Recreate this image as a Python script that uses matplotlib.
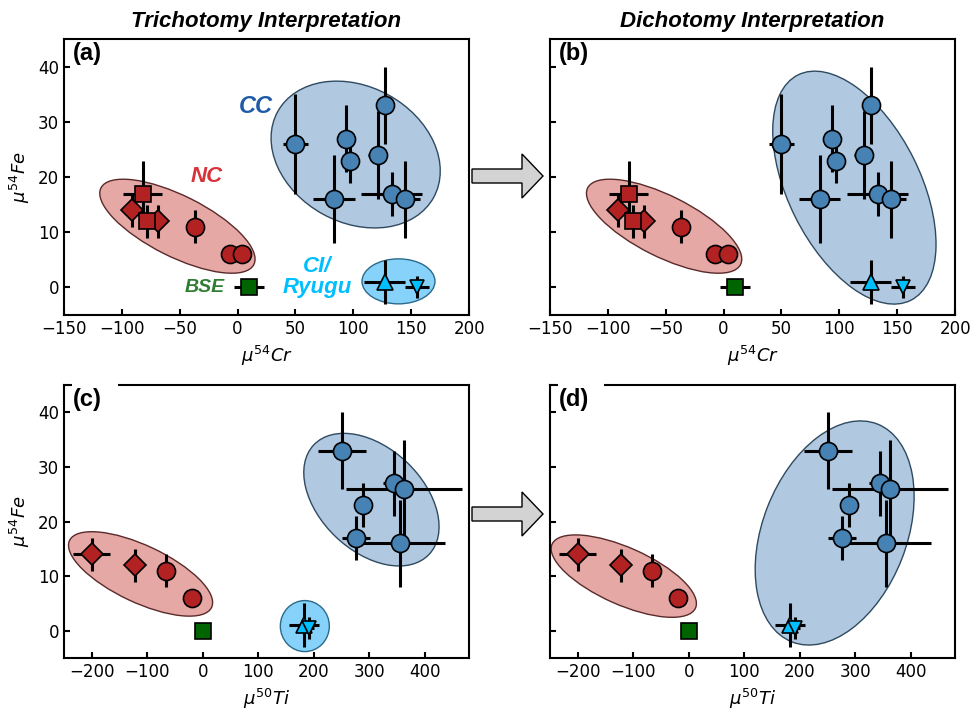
import matplotlib
matplotlib.use("Agg")
import matplotlib.pyplot as plt
from matplotlib.patches import Ellipse, Polygon, Rectangle
from matplotlib.transforms import ScaledTranslation

# ---- data: mu54Cr vs mu54Fe ----
nc_cr_x = [-69, -91, -82, -78, -37, -7, 4]
nc_cr_y = [12, 14, 17, 12, 11, 6, 6]
nc_cr_xerr = [0, 0, 17, 0, 0, 0, 0]
nc_cr_yerr = [3, 3, 6, 3, 3, 0, 0]
nc_cr_mk = ['D', 'D', 's', 's', 'o', 'o', 'o']

cc_cr_x = [50, 83, 94, 97, 121, 127, 133, 145]
cc_cr_y = [26, 16, 27, 23, 24, 33, 17, 16]
cc_cr_xerr = [11, 18, 5, 8, 8, 0, 26, 13]
cc_cr_yerr = [9, 8, 6, 4, 8, 7, 4, 7]

ci_cr_x = [127, 155]
ci_cr_y = [1, 0]
ci_cr_xerr = [18, 10]
ci_cr_yerr = [4, 2]
ci_mk = ['^', 'v']

bse_cr = (10, 0, 13)

# ---- data: mu50Ti vs mu54Fe ----
nc_ti_x = [-200, -122, -66, -20]
nc_ti_y = [14, 12, 11, 6]
nc_ti_xerr = [33, 0, 0, 0]
nc_ti_yerr = [3, 3, 3, 0]
nc_ti_mk = ['D', 'D', 'o', 'o']

cc_ti_x = [251, 345, 363, 289, 276, 356]
cc_ti_y = [33, 27, 26, 23, 17, 16]
cc_ti_xerr = [44, 20, 105, 0, 25, 81]
cc_ti_yerr = [7, 6, 9, 4, 4, 8]

ci_ti_x = [183, 191]
ci_ti_y = [1, 0.5]
ci_ti_xerr = [27, 10]
ci_ti_yerr = [4, 2]

bse_ti = (0, 0, 0)

c_nc, c_cc, c_ci, c_bse = '#B22222', '#4682B4', '#00BFFF', '#006400'
f_nc, f_cc, f_ci = '#E5A8A5', '#B0C8E0', '#87D2FA'
e_nc, e_cc, e_ci = '#5A2A2A', '#2F4A60', '#2A6A8A'

msize = {'o': 13, 's': 12, 'D': 11, '^': 12, 'v': 10}

fig = plt.figure(figsize=(9.71, 7.12), dpi=100)
ax_a = fig.add_axes([0.0659, 0.5576, 0.4172, 0.3872])
ax_b = fig.add_axes([0.5664, 0.5576, 0.4172, 0.3872])
ax_c = fig.add_axes([0.0659, 0.0758, 0.4172, 0.3835])
ax_d = fig.add_axes([0.5664, 0.0758, 0.4172, 0.3835])


def points(ax, xs, ys, xe, ye, mks, color):
    for x, y, dx, dy, m in zip(xs, ys, xe, ye, mks):
        ax.errorbar(x, y, xerr=dx, yerr=dy, fmt=m, ms=msize[m], mfc=color,
                    mec='black', mew=1.2, ecolor='black', elinewidth=2.2,
                    capsize=0, zorder=3)


def blob(ax, cx, cy, w, h, ang, fc, ec):
    # size in inches so the shape does not depend on the axis scales
    tr = fig.dpi_scale_trans + ScaledTranslation(cx, cy, ax.transData)
    ax.add_patch(Ellipse((0, 0), w, h, angle=ang, transform=tr,
                         fc=fc, ec=ec, lw=1.0, zorder=1))


def style(ax, label, show_y=True):
    for s in ax.spines.values():
        s.set_linewidth(1.5)
    ax.tick_params(direction='in', length=4.5, width=1.5, labelsize=12,
                   top=False, right=False)
    if not show_y:
        ax.tick_params(labelleft=False)
    else:
        ax.set_ylabel(r'$\mu^{54}Fe$', fontsize=13)
    ax.set_ylim(-5, 45)
    ax.set_yticks([0, 10, 20, 30, 40])
    ax.text(0.022, 0.99, label, transform=ax.transAxes, ha='left', va='top',
            fontsize=17, fontweight='bold', family='Liberation Sans', zorder=6)


# (a) and (b): Cr
for ax, lab in [(ax_a, '(a)'), (ax_b, '(b)')]:
    points(ax, nc_cr_x, nc_cr_y, nc_cr_xerr, nc_cr_yerr, nc_cr_mk, c_nc)
    points(ax, cc_cr_x, cc_cr_y, cc_cr_xerr, cc_cr_yerr, ['o'] * len(cc_cr_x), c_cc)
    points(ax, ci_cr_x, ci_cr_y, ci_cr_xerr, ci_cr_yerr, ci_mk, c_ci)
    points(ax, [bse_cr[0]], [bse_cr[1]], [bse_cr[2]], [0], ['s'], c_bse)
    ax.set_xlim(-150, 200)
    ax.set_xticks([-150, -100, -50, 0, 50, 100, 150, 200])
    ax.set_xlabel(r'$\mu^{54}Cr$', fontsize=13)
    style(ax, lab, show_y=(ax is ax_a))

blob(ax_a, -52, 11.1, 1.71, 0.61, -26.6, f_nc, e_nc)
blob(ax_a, 102, 24.1, 1.78, 1.36, -28.8, f_cc, e_cc)
blob(ax_a, 139, 1.1, 0.73, 0.45, 0, f_ci, e_ci)
blob(ax_b, -51.4, 11.1, 1.71, 0.61, -26.6, f_nc, e_nc)
blob(ax_b, 113, 18.1, 2.52, 1.32, -63.4, f_cc, e_cc)

# group names in (a)
txt = dict(fontsize=16, fontweight='bold', style='italic',
           family='Liberation Sans', ha='center', va='center', zorder=5)
ax_a.text(16, 32.8, 'CC', color='#1E5AA8', **dict(txt, fontsize=17))
ax_a.text(-27, 20.2, 'NC', color='#D6333A', **txt)
ax_a.text(-28, -0.1, 'BSE', color='#2E7D32', **dict(txt, fontsize=14))
ax_a.text(69, 1.8, 'CI/\nRyugu', color=c_ci, linespacing=1.0, **txt)

# (c) and (d): Ti
for ax, lab in [(ax_c, '(c)'), (ax_d, '(d)')]:
    points(ax, nc_ti_x, nc_ti_y, nc_ti_xerr, nc_ti_yerr, nc_ti_mk, c_nc)
    points(ax, cc_ti_x, cc_ti_y, cc_ti_xerr, cc_ti_yerr, ['o'] * len(cc_ti_x), c_cc)
    points(ax, ci_ti_x, ci_ti_y, ci_ti_xerr, ci_ti_yerr, ci_mk, c_ci)
    points(ax, [bse_ti[0]], [bse_ti[1]], [bse_ti[2]], [0], ['s'], c_bse)
    ax.set_xlim(-250, 480)
    ax.set_xticks([-200, -100, 0, 100, 200, 300, 400])
    ax.set_xlabel(r'$\mu^{50}Ti$', fontsize=13)
    style(ax, lab, show_y=(ax is ax_c))
    ax.add_patch(Rectangle((0.02, 0.985), 0.113, 0.03, transform=ax.transAxes,
                           fc='white', ec='none', clip_on=False, zorder=4))

blob(ax_c, -112, 10.4, 1.57, 0.57, -25.2, f_nc, e_nc)
blob(ax_c, 304, 24.0, 1.59, 1.03, -43.6, f_cc, e_cc)
blob(ax_c, 184, 0.85, 0.49, 0.51, 0, f_ci, e_ci)
blob(ax_d, -117, 10.0, 1.57, 0.57, -24.0, f_nc, e_nc)
blob(ax_d, 263, 17.9, 2.34, 1.44, 68.6, f_cc, e_cc)

# titles
tkw = dict(fontsize=16, fontweight='bold', style='italic',
           family='Liberation Sans', pad=9)
ax_a.set_title('Trichotomy Interpretation', **tkw)
ax_b.set_title('Dichotomy Interpretation', **tkw)

# block arrows between the columns (inches)
for yc in (5.36, 1.98):
    verts = [(4.72, yc - 0.07), (5.22, yc - 0.07), (5.22, yc - 0.22),
             (5.43, yc), (5.22, yc + 0.22), (5.22, yc + 0.07), (4.72, yc + 0.07)]
    fig.patches.append(Polygon(verts, closed=True, fc='#D3D3D3', ec='black',
                               lw=1.0, transform=fig.dpi_scale_trans))

fig.savefig('out.png', dpi=100)
